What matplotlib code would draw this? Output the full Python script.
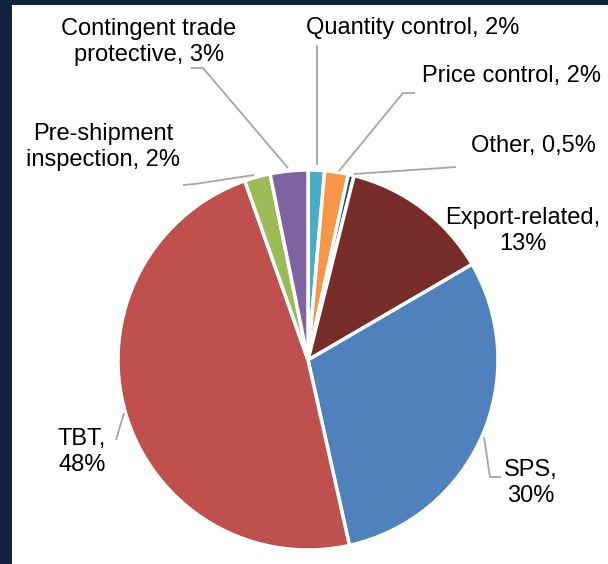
import matplotlib
matplotlib.use("Agg")
import matplotlib.pyplot as plt
from matplotlib.patches import Rectangle

categories = ["Quantity control", "Price control", "Other", "Export-related",
              "SPS", "TBT", "Pre-shipment inspection", "Contingent trade protective"]
values = [1.4, 2.0, 0.5, 12.7, 29.9, 48.1, 2.2, 3.2]
labels = ["Quantity control, 2%", "Price control, 2%", "Other, 0,5%",
          "Export-related,\n13%", "SPS,\n30%", "TBT,\n48%",
          "Pre-shipment\ninspection, 2%", "Contingent trade\nprotective, 3%"]
colors = ["#4bacc6", "#f79646", "#1f497d", "#772c2a",
          "#4f81bd", "#c0504d", "#9bbb59", "#8064a2"]

W, H = 608, 564
fig = plt.figure(figsize=(W / 100, H / 100), dpi=100)
fig.patch.set_facecolor("white")
# dark frame on left and top
fig.patches.append(Rectangle((0, 0), 12 / W, 1, transform=fig.transFigure,
                             facecolor="#11243f", edgecolor="none", zorder=0))
fig.patches.append(Rectangle((0, 1 - 5 / H), 1, 5 / H, transform=fig.transFigure,
                             facecolor="#11243f", edgecolor="none", zorder=0))

ax = fig.add_axes([0, 0, 1, 1])
ax.set_xlim(0, W)
ax.set_ylim(0, H)
ax.set_aspect("equal")
ax.axis("off")
ax.patch.set_alpha(0)

cx, cy, r = 308, H - 360, 190
ax.pie(values, colors=colors, startangle=90, counterclock=False,
       center=(cx, cy), radius=r, frame=True,
       wedgeprops=dict(edgecolor="white", linewidth=2.5))
ax.set_xlim(0, W)
ax.set_ylim(0, H)
ax.axis("off")

font = dict(family=["Liberation Sans", "DejaVu Sans"], fontsize=17, color="black",
            ha="center", va="center", linespacing=1.2)

# label positions (pixel coords from top-left)
text_pos = [(413, 28), (512, 76), (533, 146), (523, 231),
            (531, 483), (82, 452), (103, 147), (149, 42)]
leaders = [
    [(317, 165), (317, 45)],
    [(339, 171), (403, 93), (415, 93)],
    [(354, 174), (456, 167)],
    None,
    [(484, 437), (490, 477), (501, 477)],
    [(124, 413), (116, 440)],
    [(254, 175), (195, 184), (183, 185)],
    [(288, 168), (203, 68), (191, 68)],
]

for lab, (tx, ty), ld in zip(labels, text_pos, leaders):
    ax.text(tx, H - ty, lab, **font)
    if ld:
        xs = [p[0] for p in ld]
        ys = [H - p[1] for p in ld]
        ax.plot(xs, ys, color="#a6a6a6", lw=1.3, solid_capstyle="butt")

fig.savefig("out.png", dpi=100, facecolor=fig.get_facecolor())
